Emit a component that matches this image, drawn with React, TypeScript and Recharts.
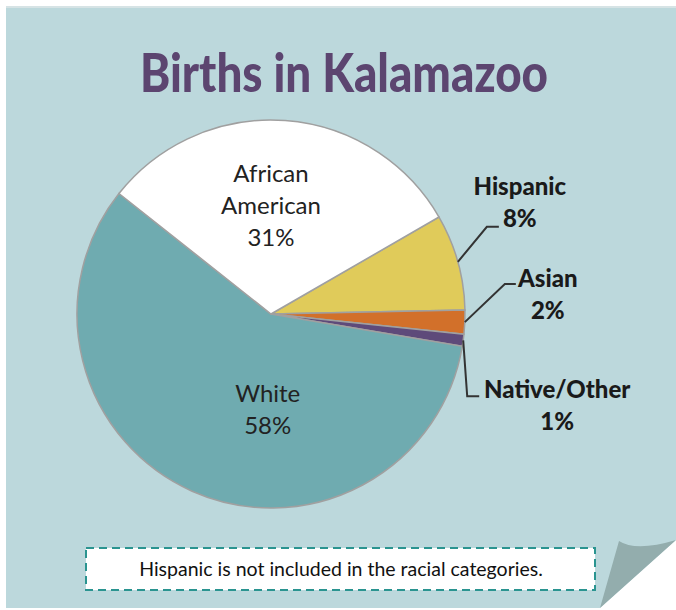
import React from 'react'
import { PieChart, Pie, Cell } from 'recharts'

if (typeof document !== 'undefined') document.body.style.margin = '0'

// chart data
const groups = ['Hispanic', 'Asian', 'Native/Other', 'White', 'African American']
const shares = [8, 2, 1, 58, 31]
const sliceColors = ['#e0cb5a', '#d2702a', '#5e4a7a', '#6fabb0', '#ffffff']

const TITLE = 'Births in Kalamazoo'
const NOTE = 'Hispanic is not included in the racial categories.'

const data = groups.map((name, i) => ({ name, value: shares[i] }))

// label placement (polar for inside labels, leader-line offsets for outside ones)
const insideLabels: Record<string, { angle: number; r: number; lines: string[] }> = {
  'African American': { angle: 90, r: 0.567, lines: ['African', 'American'] },
  White: { angle: -92, r: 0.485, lines: ['White'] },
}
const outsideLabels: Record<string, { elbow: [number, number]; arm: number; tx: number; ty: number; lines: string[] }> = {
  Hispanic: { elbow: [29, -35], arm: 12, tx: 21, ty: -41, lines: ['Hispanic'] },
  Asian: { elbow: [40, -38], arm: 11, tx: 32, ty: -7, lines: ['Asian'] },
  'Native/Other': { elbow: [4, 56], arm: 12, tx: 78, ty: -8, lines: ['Native/Other'] },
}

const RAD = Math.PI / 180

const renderLabel = (props: any) => {
  const { cx, cy, midAngle, outerRadius, name, value } = props
  const inside = insideLabels[name]
  if (inside) {
    const x = cx + outerRadius * inside.r * Math.cos(-inside.angle * RAD)
    const y = cy + outerRadius * inside.r * Math.sin(-inside.angle * RAD)
    const lines = [...inside.lines, `${value}%`]
    const start = y - ((lines.length - 1) * 32) / 2
    return (
      <g>
        {lines.map((l, i) => (
          <text key={i} x={x} y={start + i * 32} textAnchor="middle" dominantBaseline="central"
            fill="#222" fontFamily="Lato, sans-serif" fontSize={24}>
            {l}
          </text>
        ))}
      </g>
    )
  }
  const out = outsideLabels[name]
  if (!out) return null
  const sx = cx + outerRadius * Math.cos(-midAngle * RAD)
  const sy = cy + outerRadius * Math.sin(-midAngle * RAD)
  const ex = sx + out.elbow[0]
  const ey = sy + out.elbow[1]
  const fx = ex + out.arm
  const lines = [...out.lines, `${value}%`]
  return (
    <g>
      <polyline points={`${sx},${sy} ${ex},${ey} ${fx},${ey}`} fill="none" stroke="#333" strokeWidth={2} />
      {lines.map((l, i) => (
        <text key={i} x={fx + out.tx} y={ey + out.ty + i * 32} textAnchor="middle" dominantBaseline="central"
          fill="#1a1a1a" fontFamily="Lato, sans-serif" fontWeight={900} fontSize={24}>
          {l}
        </text>
      ))}
    </g>
  )
}

export default function App() {
  return (
    <div style={{ position: 'relative', width: 676, height: 610, background: '#fff', overflow: 'hidden' }}>
      <svg width={676} height={610} style={{ position: 'absolute', left: 0, top: 0 }}>
        <path d="M6,7 L676,7 L676,540 L600,608 L6,608 Z" fill="#bcd8dc" />
        <line x1={6} y1={7} x2={676} y2={7} stroke="#d6e3e5" strokeWidth={2} />
        <path d="M600,608 L619,541 Q636,552 676,540 Z" fill="#93adad" />
        <text x={344} y={92} textAnchor="middle" fill="#5c4570" fontFamily="Lato, sans-serif"
          fontWeight={900} fontSize={54} textLength={408} lengthAdjust="spacingAndGlyphs">
          {TITLE}
        </text>
        <rect x={86} y={548} width={509} height={42} fill="#fff" stroke="#2a9490" strokeWidth={2} strokeDasharray="8 5" />
        <text x={341} y={576} textAnchor="middle" fill="#111" fontFamily="Lato, sans-serif" fontSize={19.5}>
          {NOTE}
        </text>
      </svg>
      <div style={{ position: 'absolute', left: 0, top: 0 }}>
        <PieChart width={676} height={610} margin={{ top: 0, right: 0, bottom: 0, left: 0 }}>
          <Pie
            data={data}
            dataKey="value"
            nameKey="name"
            cx={271}
            cy={314}
            outerRadius={194}
            startAngle={30}
            endAngle={-330}
            stroke="#a0a0a0"
            strokeWidth={1.5}
            label={renderLabel}
            labelLine={false}
            isAnimationActive={false}
          >
            {data.map((d, i) => (
              <Cell key={d.name} fill={sliceColors[i]} />
            ))}
          </Pie>
        </PieChart>
      </div>
    </div>
  )
}
